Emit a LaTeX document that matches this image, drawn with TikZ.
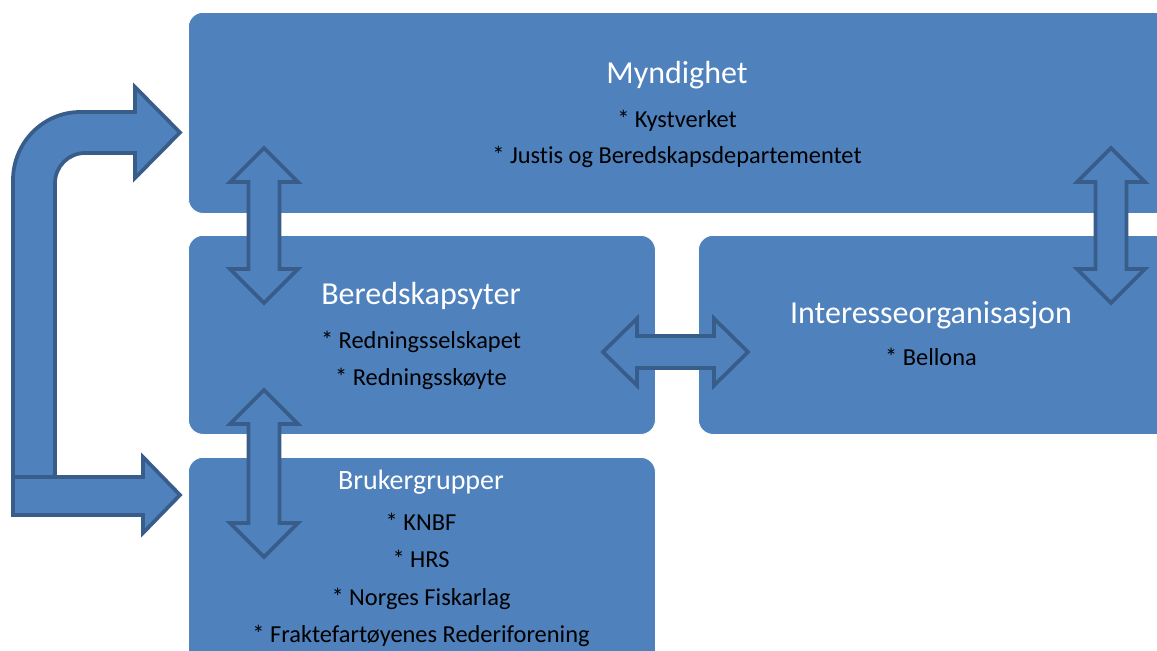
\documentclass[tikz,border=0pt]{standalone}
\usepackage{fontspec}
\setmainfont{Carlito}[Ligatures=NoCommon]
\definecolor{boxblue}{HTML}{4F81BD}
\definecolor{edgeblue}{HTML}{385D8A}
\tikzset{
  box/.style={fill=boxblue, draw=white, line width=0.6pt, rounded corners=11pt, anchor=north west, inner sep=0pt},
  shapearrow/.style={fill=boxblue, draw=edgeblue, line width=2.8pt, line join=miter},
  headtxt/.style={text=white, font=\fontsize{24}{28}\selectfont, anchor=base, inner sep=0pt},
  subheadtxt/.style={text=white, font=\fontsize{21}{25}\selectfont, anchor=base, inner sep=0pt},
  itemtxt/.style={text=black, font=\fontsize{18.3}{22}\selectfont, anchor=base, inner sep=0pt},
}
\newcommand{\vdarr}[3]{%
  \draw[shapearrow] (#1,#2) -- ({#1+34},{#2+34}) -- ({#1+15.5},{#2+34}) -- ({#1+15.5},{#3-34}) -- ({#1+34},{#3-34}) -- (#1,#3) -- ({#1-34},{#3-34}) -- ({#1-15.5},{#3-34}) -- ({#1-15.5},{#2+34}) -- ({#1-34},{#2+34}) -- cycle;}
\begin{document}
\begin{tikzpicture}[x=0.75pt,y=-0.75pt]
\useasboundingbox (0,0) rectangle (1157,650);
\clip (0,0) rectangle (1157,650);
% boxes
\node[box, minimum width=744pt, minimum height=150.75pt] (myn) at (188,12) {};
\node[box, minimum width=350.25pt, minimum height=149.25pt] (bered) at (188,235) {};
\node[box, minimum width=361.5pt, minimum height=149.25pt] (inter) at (698,235) {};
\node[box, minimum width=350.25pt, minimum height=167.25pt] (bruk) at (188,457) {};
% texts
\node[headtxt] (t1) at (677,83) {Myndighet};
\node[itemtxt] (t1a) at (677,127) {* Kystverket};
\node[itemtxt] (t1b) at (677,163) {* Justis og Beredskapsdepartementet};
\node[headtxt] (t2) at (421,304) {Beredskapsyter};
\node[itemtxt] (t2a) at (421,348) {* Redningsselskapet};
\node[itemtxt] (t2b) at (421,385) {* Redningsskøyte};
\node[headtxt] (t3) at (931,323) {Interesseorganisasjon};
\node[itemtxt] (t3a) at (931,365) {* Bellona};
\node[subheadtxt] (t4) at (421,489) {Brukergrupper};
\node[itemtxt] (t4a) at (421,530) {* KNBF};
\node[itemtxt] (t4b) at (421,567) {* HRS};
\node[itemtxt] (t4c) at (421,605) {* Norges Fiskarlag};
\node[itemtxt] (t4d) at (421,642) {* Fraktefartøyenes Rederiforening};
% double arrows
\vdarr{264}{148}{303}
\vdarr{264}{390}{557}
\vdarr{1111}{148}{303}
\draw[shapearrow] (603,352) -- (637,318.5) -- (637,336) -- (714,336) -- (714,318.5) -- (748,352) -- (714,385.5) -- (714,368) -- (637,368) -- (637,385.5) -- cycle;
% bent arrow
\draw[shapearrow] (13,496) -- (13,180) .. controls (13,143) and (43,112) .. (80,112) -- (135,112) -- (135,87) -- (180,132.5) -- (135,178) -- (135,153) -- (85,153) .. controls (68.5,153) and (55,166.5) .. (55,183) -- (55,496) -- cycle;
% lower arrow
\draw[shapearrow] (13,477) -- (143,477) -- (143,457) -- (180,495) -- (143,533) -- (143,515) -- (13,515) -- cycle;
\end{tikzpicture}
\end{document}
